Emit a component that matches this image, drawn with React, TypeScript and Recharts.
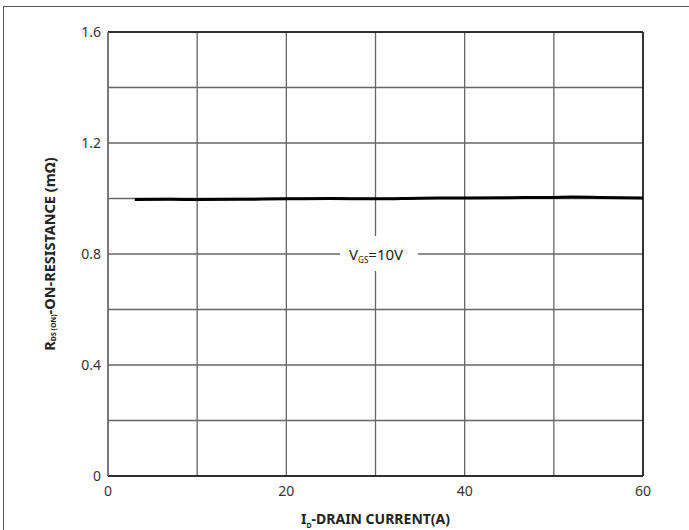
import { LineChart, Line, XAxis, YAxis, CartesianGrid, ReferenceLine, ReferenceDot, Label } from "recharts";

const currents = [3, 7, 10, 15, 20, 25, 30, 35, 40, 45, 50, 52, 55, 60];
const resistance = [0.996, 0.997, 0.996, 0.997, 0.999, 1.0, 0.999, 1.001, 1.002, 1.003, 1.004, 1.005, 1.004, 1.002];
const xTicks = [0, 20, 40, 60];
const yTicks = [0, 0.4, 0.8, 1.2, 1.6];
const xGrid = [0, 10, 20, 30, 40, 50, 60];
const yGrid = [0, 0.2, 0.4, 0.6, 0.8, 1.0, 1.2, 1.4, 1.6];

const data = currents.map((id, i) => ({ id, r: resistance[i] }));

const FONT = "'Noto Sans', 'DejaVu Sans', sans-serif";

const YTitle = ({ viewBox }: any) => {
  const cx = 49;
  const cy = viewBox.y + viewBox.height / 2;
  return (
    <text
      x={cx}
      y={cy}
      transform={`rotate(-90, ${cx}, ${cy})`}
      textAnchor="middle"
      dominantBaseline="central"
      fontFamily={FONT}
      fontWeight="bold"
      fontSize={14.5}
      fill="#222"
    >
      R<tspan fontSize={7} dy={4}>DS (ON)</tspan>
      <tspan dy={-4}>-ON-RESISTANCE (mΩ)</tspan>
    </text>
  );
};

const XTitle = ({ viewBox }: any) => {
  const cx = viewBox.x + viewBox.width / 2;
  return (
    <text x={cx} y={524} textAnchor="middle" fontFamily={FONT} fontWeight="bold" fontSize={14} fill="#222">
      I<tspan fontSize={7} dy={4}>D</tspan>
      <tspan dy={-4}>-DRAIN CURRENT(A)</tspan>
    </text>
  );
};

const VgsTag = ({ cx, cy }: any) => (
  <g>
    <rect x={cx - 39} y={cy - 18} width={78} height={35} fill="#fff" />
    <text x={cx - 30} y={cy + 6} fontFamily={FONT} fontSize={15} fill="#222">
      V<tspan fontSize={8} dy={3}>GS</tspan>
      <tspan dy={-3}>=10V</tspan>
    </text>
  </g>
);

export default function App() {
  return (
    <div style={{ position: "absolute", left: 0, top: 0, width: 689, height: 530, background: "#fff", overflow: "hidden" }}>
      <div
        style={{
          position: "absolute",
          left: 3,
          top: 6,
          width: 800,
          height: 700,
          borderTop: "1.5px solid #555",
          borderLeft: "1.5px solid #555",
        }}
      />
      <LineChart
        width={689}
        height={530}
        data={data}
        margin={{ top: 32, right: 46, left: 0, bottom: 24 }}
        style={{ position: "absolute", left: 0, top: 0 }}
      >
        <CartesianGrid stroke="#666" strokeWidth={1.3} horizontalValues={yGrid} verticalValues={xGrid} />
        <XAxis
          dataKey="id"
          type="number"
          domain={[0, 60]}
          ticks={xTicks}
          height={30}
          tickLine={false}
          axisLine={{ stroke: "#111", strokeWidth: 1.5 }}
          tick={{ fontFamily: FONT, fontSize: 14, fill: "#333" }}
          tickMargin={4}
        >
          <Label content={<XTitle />} />
        </XAxis>
        <YAxis
          type="number"
          domain={[0, 1.6]}
          ticks={yTicks}
          width={108}
          tickLine={false}
          axisLine={{ stroke: "#666", strokeWidth: 1.3 }}
          tick={{ fontFamily: FONT, fontSize: 14, fill: "#333" }}
          tickMargin={1}
          tickFormatter={(v: number) => (v === 0 ? "0" : v.toFixed(1))}
        >
          <Label content={<YTitle />} />
        </YAxis>
        <ReferenceLine y={1.6} stroke="#111" strokeWidth={1.5} />
        <ReferenceLine x={60} stroke="#111" strokeWidth={1.5} />
        <ReferenceDot x={30.4} y={0.8} shape={<VgsTag />} />
        <Line
          dataKey="r"
          type="monotone"
          stroke="#000"
          strokeWidth={3}
          dot={false}
          isAnimationActive={false}
        />
      </LineChart>
    </div>
  );
}
